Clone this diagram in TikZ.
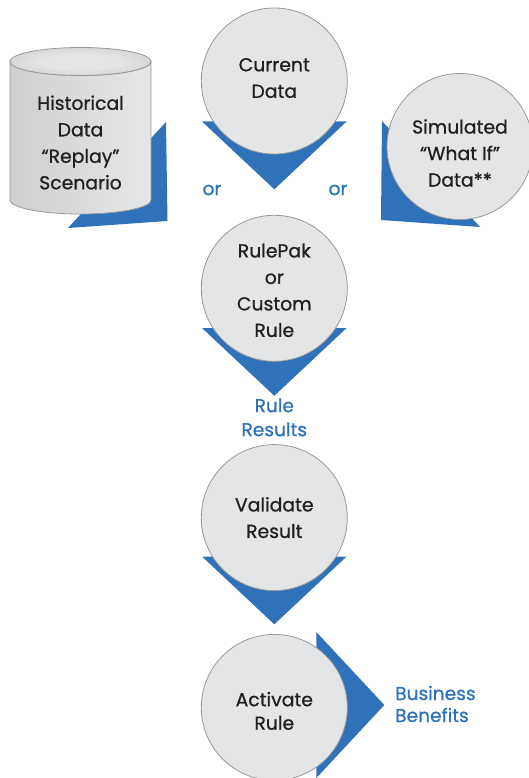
\documentclass[tikz,border=0pt]{standalone}
\usepackage{fontspec}
\setmainfont{Poppins}[FakeBold=0.8]
\usepackage{xcolor}
\usetikzlibrary{positioning}

\definecolor{wedgeblue}{HTML}{2F72BA}
\definecolor{discgray}{HTML}{E4E5E7}
\definecolor{rimgray}{HTML}{CBCCCE}
\definecolor{inkgray}{HTML}{231F20}
\pgfdeclareradialshading{discshade}{\pgfpoint{0bp}{0bp}}{
  color(0bp)=(discgray); color(36bp)=(discgray); color(50bp)=(rimgray); color(100bp)=(rimgray)}
\pgfdeclareradialshading{lidshade}{\pgfpoint{0bp}{0bp}}{
  color(0bp)=(discgray); color(14bp)=(discgray); color(50bp)=(rimgray!90!black); color(100bp)=(rimgray!90!black)}
\pgfdeclarehorizontalshading{drumshade}{100bp}{
  color(0bp)=(rimgray!85!black); color(20bp)=(rimgray); color(70bp)=(discgray); color(86bp)=(discgray); color(100bp)=(rimgray!85!black)}

\begin{document}
\begin{tikzpicture}[
  x=1pt, y=1pt,
  node distance=10pt,
  disc/.style={circle, draw=gray!80, line width=0.8pt, shading=discshade, minimum size=146pt, inner sep=0pt},
  disctext/.style={align=center, text=inkgray, inner sep=0pt, font=\fontsize{18.8}{26.5}\selectfont},
  wedge/.style={fill=wedgeblue, draw=none},
  bluetext/.style={text=wedgeblue, font=\fontsize{18.6}{24}\selectfont, inner sep=0pt}
]
  \useasboundingbox (0,0) rectangle (529,-778);

  % blue wedges go first, the discs sit on them
  \coordinate (anchorcur) at (274.3,-81);
  \coordinate (anchorrule) at (274.3,-287.5);
  \coordinate (anchorval) at (274.3,-516);
  \coordinate (anchoract) at (274.3,-705);
  \foreach \c in {anchorcur,anchorrule,anchorval}
    \fill[wedge] ([shift={(-72.3,-40.5)}]\c) -- ([shift={(72.3,-40.5)}]\c) -- ([shift={(0,-108.3)}]\c) -- cycle;
  \fill[wedge] ([shift={(42,73)}]anchoract) -- ([shift={(110,0)}]anchoract) -- ([shift={(42,-73)}]anchoract) -- cycle;
  \fill[wedge] (166,-122) -- (167.5,-221) -- (68,-228) -- cycle;
  \fill[wedge] (382,-121) -- (381,-220) -- (480,-227) -- cycle;

  \node[disc] (current) at (anchorcur) {};
  \node[disc, below=60.5pt of current] (rulepak) {};
  \node[disc, below=82.5pt of rulepak] (validate) {};
  \node[disc, below=43pt of validate] (activate) {};
  \node[disc] (simulated) at (460,-146.5) {};

  \node[disctext] (currenttext) at ([yshift=3pt]current) {Current\\Data};
  \node[disctext] (rulepaktext) at ([yshift=-2pt]rulepak) {RulePak\\or\\Custom\\Rule};
  \node[disctext] (validatetext) at (validate) {Validate\\Result};
  \node[disctext, font=\fontsize{18.8}{23.5}\selectfont] (activatetext) at ([yshift=-3.5pt]activate) {Activate\\Rule};
  \node[disctext] (simulatedtext) at ([yshift=-6.5pt]simulated) {Simulated\\``What If''\\Data**};

  % drum
  \shade[shading=drumshade, draw=gray!80, line width=0.8pt] (10,-61.5) -- (10,-200) arc[start angle=180, end angle=360, x radius=70.5, y radius=14] -- (151,-61.5) arc[start angle=0, end angle=-180, x radius=70.5, y radius=14] -- cycle;
  \shade[shading=lidshade, draw=gray!80, line width=0.8pt] (80.5,-61.5) ellipse[x radius=70.5, y radius=14];
  \node[disctext] (history) at (80.5,-142.5) {Historical\\Data\\``Replay''\\Scenario};

  \node[bluetext] (orleft) at (212,-190) {or};
  \node[bluetext] (orright) at (338,-190) {or};
  \node[bluetext, align=center, below=36.5pt of rulepak] (results) {Rule\\Results};
  \node[bluetext, align=left, anchor=west, font=\fontsize{18.6}{22}\selectfont] (benefits) at (395,-704) {Business\\Benefits};
\end{tikzpicture}
\end{document}
